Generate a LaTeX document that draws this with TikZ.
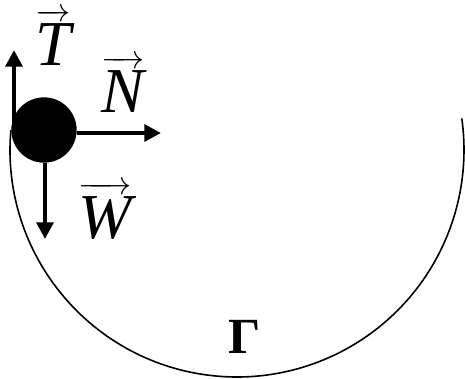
\documentclass[tikz,border=0pt]{standalone}
\usepackage{amsmath}
\usepackage{fontspec}
\setmainfont{Liberation Serif}
\usepackage{tikz}
\usetikzlibrary{arrows.meta,calc}
\newcommand{\forcevec}[1]{$\overrightarrow{\rule{0pt}{0.68em}\mbox{\itshape #1}}$}
\tikzset{
  force/.style={-{Triangle[length=12.5pt,width=12.5pt]},line width=3.7pt},
  track/.style={line width=1.2pt},
  ballnode/.style={circle,fill=black,minimum size=49pt,inner sep=0pt},
  vlabel/.style={font=\fontsize{48}{52}\selectfont,inner sep=0pt,anchor=base}
}
\begin{document}
\begin{tikzpicture}[x=0.75pt,y=-0.75pt]
  \useasboundingbox (0,0) rectangle (465,379);

  % track
  \coordinate (c) at (237,150);
  \draw[track] ($(c)+(185:227)$) arc[start angle=185,end angle=-8,radius=227];

  % forces
  \coordinate (Ttail) at (14,132);
  \coordinate (Ttip)  at (14,50);
  \coordinate (Ntip)  at (161,133);
  \coordinate (Wtip)  at (45,239);

  \draw[force] (Ttail)--(Ttip);
  \node[ballnode] (ball) at (44,130) {};
  \draw[force] (ball.east|-Ntip)--(Ntip);
  \draw[force] (ball.south-|Wtip)--(Wtip);

  \node[vlabel] (Tlab) at (53,65) {\forcevec{T}};
  \node[vlabel] (Nlab) at (123,112) {\forcevec{N}};
  \node[vlabel] (Wlab) at (105,238) {\forcevec{W}};
  \node[font=\fontsize{38}{42}\selectfont\bfseries,inner sep=0pt] (gamma) at (245,337) {Γ};
\end{tikzpicture}
\end{document}
